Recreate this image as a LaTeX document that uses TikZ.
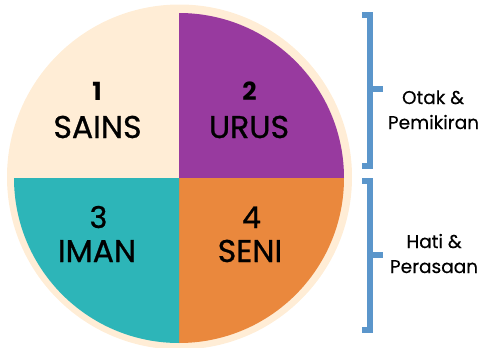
\documentclass[tikz,border=0pt]{standalone}
\usepackage{fontspec}
\setmainfont{Poppins}
\newfontfamily\popmed[FakeBold=0.9]{Poppins}
\newfontfamily\popside[FakeBold=0.4]{Poppins}
\definecolor{cream}{HTML}{FFEDD6}
\definecolor{purp}{HTML}{983A9F}
\definecolor{teal2}{HTML}{2DB5B8}
\definecolor{orng}{HTML}{EA883D}
\definecolor{brblue}{HTML}{5B96CB}
\tikzset{
  numlbl/.style={anchor=base, font=\fontsize{25}{25}\selectfont\bfseries, text=black, inner sep=0pt},
  numlblb/.style={anchor=base, font=\fontsize{30}{30}\selectfont\popmed, text=black, inner sep=0pt},
  wordlbl/.style={anchor=base, font=\fontsize{31.5}{31.5}\selectfont\popmed, text=black, inner sep=0pt},
  sidelbl/.style={anchor=base, font=\fontsize{18.5}{18.5}\selectfont\popside, text=black, inner sep=0pt},
  bracket/.style={draw=brblue, line width=6pt, line join=miter},
}
\begin{document}
\begin{tikzpicture}[x=1pt,y=-1pt]
\useasboundingbox (0,0) rectangle (485,348);
\coordinate (c) at (179,178);
\fill[cream] (179.5,177) circle[radius=172.5];
\fill[cream] (c) -- ++(-165,0) arc[start angle=180, end angle=270, radius=165] -- cycle;
\fill[purp] (c) -- ++(0,-165) arc[start angle=-90, end angle=0, radius=165] -- cycle;
\fill[orng] (c) -- ++(165,0) arc[start angle=0, end angle=90, radius=165] -- cycle;
\fill[teal2] (c) -- ++(0,165) arc[start angle=90, end angle=180, radius=165] -- cycle;

\node[numlbl] (n1) at (97,100) {1};
\node[wordlbl] (w1) at (97.5,138) {SAINS};
\node[numlbl] (n2) at (249.5,100) {2};
\node[wordlbl] (w2) at (249,138) {URUS};
\node[numlblb] (n3) at (98.5,228) {3};
\node[wordlbl] (w3) at (97,262) {IMAN};
\node[numlblb] (n4) at (251.5,228) {4};
\node[wordlbl] (w4) at (250,262) {SENI};

\coordinate (b1t) at (362,15);
\coordinate (b1b) at (362,166);
\coordinate (b1m) at (383,89);
\draw[bracket] (b1t) -- (370,15) -- (370,166) -- (b1b);
\draw[bracket] (370,89) -- (b1m);
\coordinate (b2t) at (362,181);
\coordinate (b2b) at (362,330);
\coordinate (b2m) at (383,255);
\draw[bracket] (b2t) -- (370,181) -- (370,330) -- (b2b);
\draw[bracket] (370,255) -- (b2m);

\node[sidelbl] (s1) at (433,104) {Otak \&};
\node[sidelbl] (s2) at (433.5,129) {Pemikiran};
\node[sidelbl] (s3) at (434,248) {Hati \&};
\node[sidelbl] (s4) at (434,273) {Perasaan};
\end{tikzpicture}
\end{document}
